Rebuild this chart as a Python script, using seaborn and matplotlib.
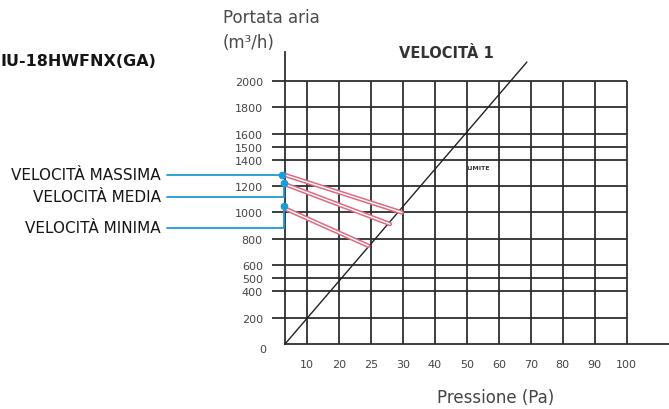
import matplotlib
matplotlib.use("Agg")
import matplotlib.pyplot as plt
import matplotlib.patheffects as pe
import seaborn as sns
import pandas as pd

# ---- data ----
x_labels = ["10", "20", "25", "30", "40", "50", "60", "70", "80", "90", "100"]
x_pos = [1, 2, 3, 4, 5, 6, 7, 8, 9, 10, 11]          # equally spaced pressure ticks
y_ticks = [200, 400, 500, 600, 800, 1000, 1200, 1400, 1500, 1600, 1800, 2000]
y_labels = ["200", "400", "500", "600", "800", "1000", "1200", "1400", "1500", "1600", "1800", "2000"]

series_names = ["VELOCITÀ MASSIMA", "VELOCITÀ MEDIA", "VELOCITÀ MINIMA"]
series_x = [[0.32, 3.97], [0.32, 3.60], [0.32, 2.92]]
series_y = [[1285, 1000], [1215, 912], [1030, 747]]
dot_y = [1285, 1222, 1048]
label_y = [1285, 1120, 882]

limite_x = [0.32, 7.88]
limite_y = [0, 2144]

# ---- figure ----
sns.set_style("white")
plt.rcParams["font.family"] = ["DejaVu Sans"]
fig = plt.figure(figsize=(6.69, 4.10), dpi=100)
ax = fig.add_axes([285 / 669, 65 / 410, 384 / 669, 292 / 410])
ax.set_xlim(0.32, 12.32)
ax.set_ylim(0, 2220)

grid_c = "#2e2e2e"
# grid
ax.hlines(y_ticks, -0.08, 11, colors=grid_c, linewidth=1.3, clip_on=False, zorder=1)
ax.vlines(x_pos, 0, 2000, colors=grid_c, linewidth=1.3, zorder=1)

for s in ["top", "right"]:
    ax.spines[s].set_visible(False)
for s in ["left", "bottom"]:
    ax.spines[s].set_color(grid_c)
    ax.spines[s].set_linewidth(1.3)

tick_c = "#444444"
ax.set_xticks(x_pos)
ax.set_xticklabels(x_labels, fontsize=8, color=tick_c)
ax.set_yticks(y_ticks)
ax.set_yticklabels(y_labels, fontsize=8, color=tick_c)
ax.tick_params(axis="both", length=0)
ax.tick_params(axis="y", pad=16)
ax.tick_params(axis="x", pad=11)
ax.text(-0.28, 0, "0", transform=ax.transData, ha="right", va="top",
        fontsize=8, color=tick_c)

# limite line
lim_df = pd.DataFrame({"x": limite_x, "y": limite_y})
sns.lineplot(data=lim_df, x="x", y="y", ax=ax, color="#222222", linewidth=1.0,
             clip_on=False, zorder=3)
ax.text(6.0, 1330, "LIMITE", fontsize=4.5, fontweight="bold", color="#333333")

# red speed lines
rows = []
for name, xs, ys in zip(series_names, series_x, series_y):
    for xv, yv in zip(xs, ys):
        rows.append({"serie": name, "x": xv, "y": yv})
red_df = pd.DataFrame(rows)
sns.lineplot(data=red_df, x="x", y="y", units="serie", estimator=None, ax=ax,
             color="#e06a80", linewidth=3.2, zorder=4,
             path_effects=[pe.Stroke(linewidth=3.2, foreground="#e06a80"),
                           pe.Stroke(linewidth=1.0, foreground="#ffffff")])

# blue annotations
blue = "#1b9bd7"
x_left = -3.37
x_dot = [0.23, 0.29, 0.29]
for name, dy, ly, xd in zip(series_names, dot_y, label_y, x_dot):
    ax.plot([x_left, xd, xd], [ly, ly, dy], color=blue, linewidth=1.3,
            clip_on=False, zorder=5, solid_joinstyle="miter")
    ax.plot([xd], [dy], "o", color=blue, markersize=4.5, clip_on=False, zorder=6)
    ax.text(x_left - 0.2, ly, name, ha="right", va="center", fontsize=11,
            color="#151515", fontweight="medium")

ax.set_xlabel("")
ax.set_ylabel("")

# texts
fig.text(0, 1 - 62 / 410, "IU-18HWFNX(GA)", ha="left", va="center",
         fontsize=11.5, fontweight="bold", color="#151515")
fig.text(223 / 669, 1 - 18 / 410, "Portata aria", ha="left", va="center",
         fontsize=12, color="#4a4a4a")
fig.text(223 / 669, 1 - 43 / 410, "(m³/h)", ha="left", va="center",
         fontsize=12, color="#4a4a4a")
fig.text(446 / 669, 1 - 54 / 410, "VELOCITÀ 1", ha="center", va="center",
         fontsize=10.5, fontweight="bold", color="#333333")
fig.text(496 / 669, 1 - 398 / 410, "Pressione (Pa)", ha="center", va="center",
         fontsize=12, color="#444444")

fig.savefig("out.png", dpi=100)
